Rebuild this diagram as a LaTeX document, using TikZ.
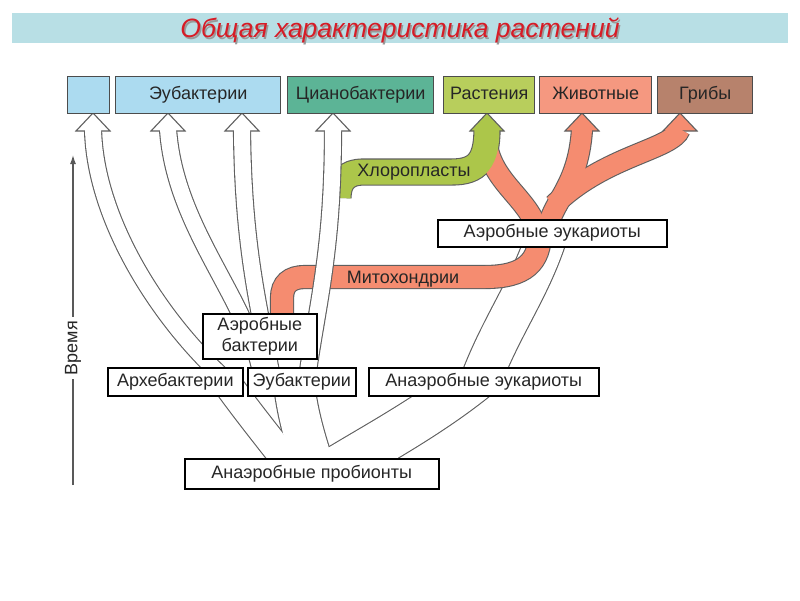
\documentclass[tikz,border=0pt]{standalone}
\usepackage{fontspec}
\setmainfont{Liberation Sans}
\usetikzlibrary{arrows.meta}
\definecolor{barblue}{RGB}{184,223,229}
\definecolor{titlered}{RGB}{214,28,38}
\definecolor{skyfill}{RGB}{172,219,240}
\definecolor{tealfill}{RGB}{92,180,150}
\definecolor{leaffill}{RGB}{184,206,92}
\definecolor{salmonfill}{RGB}{245,152,128}
\definecolor{brownfill}{RGB}{183,130,108}
\definecolor{mitored}{RGB}{245,140,112}
\definecolor{chlorogreen}{RGB}{172,198,74}
\definecolor{ribgray}{RGB}{95,95,95}

\begin{document}
\begin{tikzpicture}[x=1pt, y=-1pt, font=\fontsize{18}{21}\selectfont, text=black!85,
    oneline/.style={text height=13pt, text depth=4pt},
    topbox/.style={oneline, draw=black!70, line width=1.4pt, minimum height=37pt, inner sep=0pt, anchor=north west},
    lowbox/.style={draw=black, fill=white, line width=1.6pt, minimum height=28pt, inner sep=0pt, anchor=north west},
    ribedge/.style={draw=ribgray, line width=#1+2.2pt},
    ribfill/.style={line width=#1},
    arrhead/.style={draw=ribgray, line width=1.1pt, line join=miter},
    titletext/.style={font=\fontsize{26.5}{30}\selectfont\itshape}]
  \useasboundingbox[fill=white] (0,0) rectangle (800,600);
  \fill[barblue] (12,13) rectangle (788,43);
  \node[titletext, text=black!40] (titleShadow) at (401.5,32) {Общая характеристика растений};
  \node[titletext, text=titlered] (title) at (400,30.5) {Общая характеристика растений};

  % arrow tips just under the top row
  \coordinate (tipA) at (93,113);
  \coordinate (tipB) at (168,113);
  \coordinate (tipC) at (242,113);
  \coordinate (tipD) at (333,113);
  \coordinate (tipP) at (487,113);
  \coordinate (tipJ) at (582,113);
  \coordinate (tipF) at (680,113);

  \def\lowArch{(305,485) .. controls (275,445) and (245,410) .. (212,362)}
  \def\lowEu{(320,485) .. controls (305,440) and (295,410) .. (292,362)}
  \def\lowEuk{(318,480) .. controls (365,450) and (425,420) .. (480,375)}
  \def\midEuk{(474,400) .. controls (496,330) and (532,290) .. (550,225)}
  \def\mito{(282,335) -- (282,298) .. controls (282,284) and (290,277) .. (305,277) -- (485,277) .. controls (525,277) and (540,262) .. (540,232)}
  \def\toPlant{(538,240) .. controls (538,205) and (497,188) .. (488,150)}
  \def\toAnim{(548,240) .. controls (544,205) and (578,195) .. (582,129)}
  \def\toFung{(554,205) .. controls (605,155) and (672,150) .. (680,129)}
  \def\chloro{(338,198) .. controls (338,182) and (345,172) .. (364,172) -- (452,172) .. controls (478,172) and (487,160) .. (487,129)}
  \def\upA{(224,378) .. controls (160,320) and (95,220) .. (93,129)}
  \def\upB{(262,378) .. controls (250,300) and (175,230) .. (168,129)}
  \def\upC{(272,378) .. controls (260,310) and (243,250) .. (242,129)}
  \def\upD{(307,378) .. controls (318,300) and (333,250) .. (333,129)}

  % time axis
  \coordinate (timeBot) at (73,485);
  \coordinate (timeTop) at (73,155);
  \draw[-{Latex[length=9pt,width=6pt]}, line width=1.3pt, black!65] (timeBot) -- (timeTop);
  \node[fill=white, rotate=90, inner sep=4pt] (timeLbl) at (73,348) {Время};

  % white branches of the lower tree, cut off inside the boxes
  \begin{scope}
    \clip (0,372) rectangle (800,474);
    \foreach \w/\p in {28pt/\lowArch, 40pt/\lowEu, 44pt/\lowEuk} \draw[ribedge=\w] \p;
    \foreach \w/\p in {28pt/\lowArch, 40pt/\lowEu, 44pt/\lowEuk} \draw[ribfill=\w, white] \p;
  \end{scope}
  \begin{scope}
    \clip (0,240) rectangle (800,380);
    \draw[ribedge=40pt] \midEuk;
    \draw[ribfill=40pt, white] \midEuk;
  \end{scope}

  % mitochondria and chloroplasts
  \foreach \w/\p in {22pt/\mito, 20pt/\toPlant, 20pt/\toAnim, 20pt/\toFung, 25pt/\chloro} \draw[ribedge=\w] \p;
  \filldraw[arrhead, fill=chlorogreen] (tipP) ++(-17,18) -- (tipP) -- ++(17,18) -- cycle;
  \foreach \t in {tipJ, tipF}
    \filldraw[arrhead, fill=mitored] (\t) ++(-17,18) -- (\t) -- ++(17,18) -- cycle;
  \foreach \w/\p in {22pt/\mito, 20pt/\toPlant, 20pt/\toAnim, 20pt/\toFung} \draw[ribfill=\w, mitored] \p;
  \draw[ribfill=25pt, chlorogreen] \chloro;
  \node (chloroLbl) at (414,172) {Хлоропласты};
  \node (mitoLbl) at (403,279) {Митохондрии};

  % hollow arrows to the bacteria
  \foreach \p in {\upA, \upB, \upC, \upD} \draw[ribedge=16pt] \p;
  \foreach \t in {tipA, tipB, tipC, tipD}
    \filldraw[arrhead, fill=white] (\t) ++(-17,18) -- (\t) -- ++(17,18) -- cycle;
  \foreach \p in {\upA, \upB, \upC, \upD} \draw[ribfill=16pt, white] \p;

  \node[topbox, fill=skyfill, minimum width=42pt] (tArch) at (67,76) {};
  \node[topbox, fill=skyfill, minimum width=165pt] (tEu) at (115,76) {Эубактерии};
  \node[topbox, fill=tealfill, minimum width=146pt] (tCyan) at (287,76) {Цианобактерии};
  \node[topbox, fill=leaffill, minimum width=91pt] (tPlant) at (443,76) {Растения};
  \node[topbox, fill=salmonfill, minimum width=112pt] (tAnim) at (539,76) {Животные};
  \node[topbox, fill=brownfill, minimum width=95pt] (tFung) at (657,76) {Грибы};

  \node[lowbox, minimum width=114pt, minimum height=45pt, align=center] (aerBact) at (202,313) {Аэробные\\бактерии};
  \node[lowbox, oneline, minimum width=135pt] (arch) at (107,367) {Архебактерии};
  \node[lowbox, oneline, minimum width=108pt] (euBact) at (247,367) {Эубактерии};
  \node[lowbox, oneline, minimum width=230pt] (anEuk) at (368,367) {Анаэробные эукариоты};
  \node[lowbox, oneline, minimum width=229pt, minimum height=27pt] (aerEuk) at (437,219) {Аэробные эукариоты};
  \node[lowbox, oneline, minimum width=254pt, minimum height=30pt] (proBio) at (184,458) {Анаэробные пробионты};
\end{tikzpicture}
\end{document}
